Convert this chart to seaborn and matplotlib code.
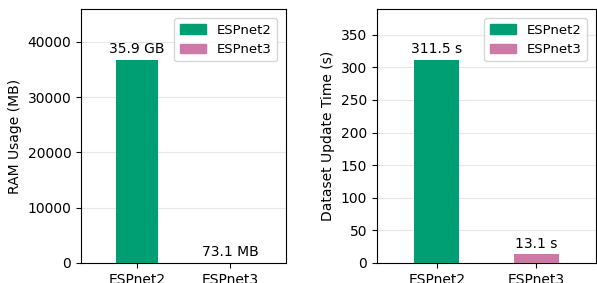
import pandas as pd
import seaborn as sns
import matplotlib
matplotlib.use('Agg')
import matplotlib.pyplot as plt

# data
systems = ["ESPnet2", "ESPnet3"]
ram_mb = [35.9 * 1024, 73.1]
ram_labels = ["35.9 GB", "73.1 MB"]
update_s = [311.5, 13.1]
update_labels = ["311.5 s", "13.1 s"]
colors = ["#009E73", "#CC79A7"]

df = pd.DataFrame({"system": systems, "ram": ram_mb, "update": update_s})

plt.rcParams["font.family"] = ["DejaVu Sans"]
plt.rcParams["font.size"] = 10

W, H = 597, 283
fig = plt.figure(figsize=(W / 100, H / 100), dpi=100)
ax_ram = fig.add_axes([81 / W, 1 - 263 / H, 205 / W, 254 / H])
ax_upd = fig.add_axes([377 / W, 1 - 263 / H, 219 / W, 254 / H])

panels = [
    (ax_ram, "ram", "RAM Usage (MB)", ram_labels),
    (ax_upd, "update", "Dataset Update Time (s)", update_labels),
]

for ax, col, ylabel, labels in panels:
    sns.barplot(data=df, x="system", y=col, hue="system", palette=colors,
                width=0.45, saturation=1, ax=ax, zorder=3)
    for cont, lab in zip(ax.containers, labels):
        ax.bar_label(cont, labels=[lab], padding=2.5, fontsize=10)
    ax.set_xlim(-0.6, 1.6)
    ax.set_ylim(0, df[col].max() * 1.25)
    ax.set_xlabel("")
    ax.set_ylabel(ylabel)
    ax.grid(axis="y", color="#dddddd", linewidth=0.8, alpha=0.7, zorder=0)
    ax.set_axisbelow(True)
    handles = [plt.Rectangle((0, 0), 1, 1, color=c) for c in colors]
    ax.legend(handles, systems, loc="upper right", fontsize=9.5,
              borderaxespad=0.7)

fig.savefig("out.png", dpi=100)
